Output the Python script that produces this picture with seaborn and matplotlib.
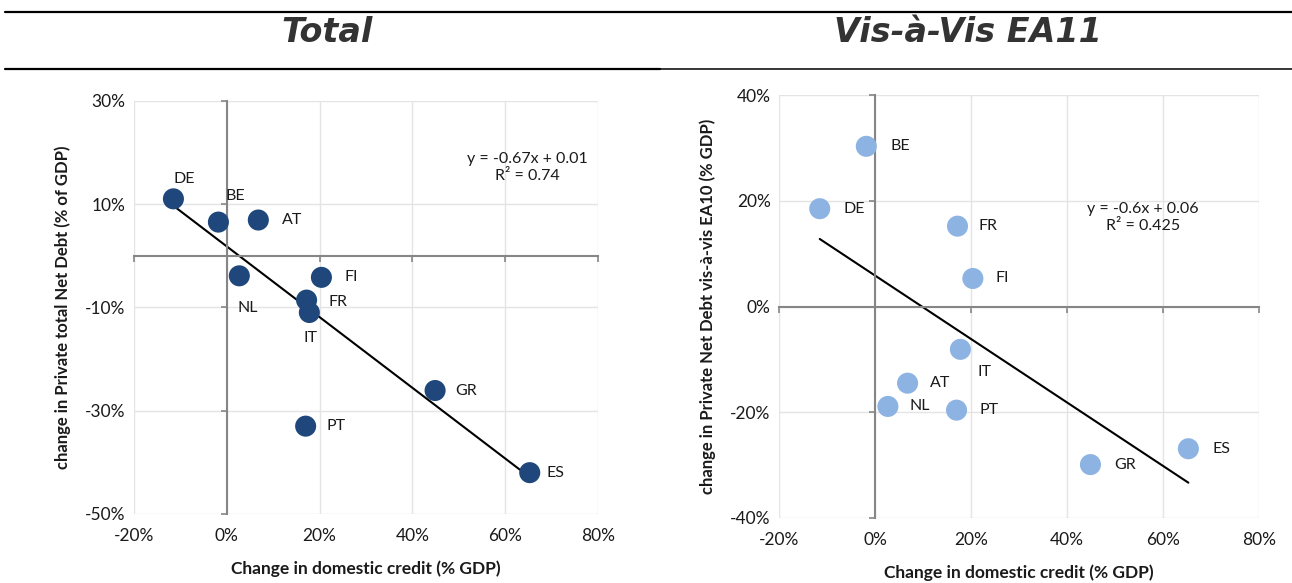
"""
Credito domestico vs debito netto privato: due scatter con retta di regressione
"""

import matplotlib
matplotlib.use("Agg")
import matplotlib.pyplot as plt
from matplotlib.lines import Line2D
from matplotlib.ticker import FuncFormatter
import seaborn as sns
import pandas as pd

# dati (valori in %)
countries = ["DE", "BE", "AT", "NL", "FI", "FR", "IT", "GR", "PT", "ES"]
credit_change = [-11.5, -1.8, 6.8, 2.7, 20.4, 17.2, 17.8, 44.9, 17.0, 65.3]
total_debt_change = [11.0, 6.5, 6.9, -3.9, -4.2, -8.6, -11.0, -26.1, -33.0, -42.0]
ea_debt_change = [18.5, 30.3, -14.5, -18.9, 5.3, 15.2, -8.1, -29.9, -19.6, -26.9]

x_ticks = [-20, 0, 20, 40, 60, 80]
total_ticks = [-50, -30, -10, 10, 30]
ea_ticks = [-40, -20, 0, 20, 40]

total_eq = ["y = -0.67x + 0.01", "R² = 0.74"]
ea_eq = ["y = -0.6x + 0.06", "R² = 0.425"]

# spostamento etichette (pixel) rispetto al punto
total_offsets = {"DE": (0, 20), "BE": (7, 26), "AT": (24, 0), "NL": (-2, -32),
                 "FI": (23, 0), "FR": (22, -2), "IT": (-6, -26), "GR": (20, 0),
                 "PT": (21, 0), "ES": (17, 0)}
ea_offsets = {"DE": (24, 0), "BE": (24, 0), "AT": (22, 0), "NL": (22, 0),
              "FI": (23, 0), "FR": (21, 0), "IT": (17, -23), "GR": (24, 0),
              "PT": (23, 0), "ES": (24, 0)}

sns.set_theme(style="white")
plt.rcParams["font.family"] = ["Lato", "DejaVu Sans"]

TEXT = "#1a1a1a"
GRID = "#e4e4e4"
AXIS = "#868686"

df = pd.DataFrame({"country": countries, "credit": credit_change,
                   "total": total_debt_change, "ea": ea_debt_change})

fig = plt.figure(figsize=(12.92, 5.83), dpi=100)
ax1 = fig.add_axes([0.1037, 0.1184, 0.3591, 0.7089])
ax2 = fig.add_axes([0.6029, 0.1115, 0.3715, 0.7255])

pct = FuncFormatter(lambda v, p: f"{v:.0f}%")


def draw_panel(ax, ycol, yticks, color, offsets, eq, eq_pos, ylabel):
    sns.regplot(data=df, x="credit", y=ycol, ax=ax, scatter=False, ci=None,
                truncate=True, line_kws={"color": "black", "lw": 1.5, "zorder": 2})
    sns.scatterplot(data=df, x="credit", y=ycol, ax=ax, color=color, s=230,
                    edgecolor="none", zorder=3, legend=False)
    for _, r in df.iterrows():
        ax.annotate(r["country"], (r["credit"], r[ycol]), xytext=offsets[r["country"]],
                    textcoords="offset pixels", ha="left", va="center",
                    fontsize=11.5, color=TEXT)
    ax.text(eq_pos[0], eq_pos[1], eq[0] + "\n" + eq[1], ha="center", va="center",
            fontsize=11.5, color=TEXT, linespacing=1.3)

    ax.set_xlim(x_ticks[0], x_ticks[-1])
    ax.set_ylim(yticks[0], yticks[-1])
    ax.set_xticks(x_ticks)
    ax.set_yticks(yticks)
    ax.grid(True, color=GRID, lw=1.0, zorder=0)
    ax.set_axisbelow(True)

    # assi che si incrociano nello zero, con tacche verso l'esterno
    for s in ["top", "right"]:
        ax.spines[s].set_visible(False)
    ax.spines["left"].set_position(("data", 0))
    ax.spines["bottom"].set_position(("data", 0))
    ax.spines["left"].set_color(AXIS)
    ax.spines["bottom"].set_color(AXIS)
    ax.spines["left"].set_linewidth(1.5)
    ax.spines["bottom"].set_linewidth(1.5)
    ax.tick_params(direction="out", length=4, width=1.2, color=AXIS,
                   labelleft=False, labelbottom=False, left=True, bottom=True)
    ax.set_xlabel("")
    ax.set_ylabel("")

    # etichette dei tick sul bordo (come in Excel)
    sy = ax.secondary_yaxis("left")
    sy.set_yticks(yticks)
    sy.yaxis.set_major_formatter(pct)
    sy.tick_params(length=0, labelsize=12.5, labelcolor=TEXT, pad=6)
    sy.spines["left"].set_visible(False)
    sy.set_ylabel(ylabel, fontsize=12, fontweight="bold", color=TEXT, labelpad=10)

    sx = ax.secondary_xaxis("bottom")
    sx.set_xticks(x_ticks)
    sx.xaxis.set_major_formatter(pct)
    sx.tick_params(length=0, labelsize=12.5, labelcolor=TEXT, pad=10)
    sx.spines["bottom"].set_visible(False)
    sx.set_xlabel("Change in domestic credit (% GDP)", fontsize=12.5,
                  fontweight="bold", color=TEXT, labelpad=12)


draw_panel(ax1, "total", total_ticks, "#1f477b", total_offsets, total_eq, (64.7, 17.0),
           "change in Private total Net Debt (% of GDP)")
draw_panel(ax2, "ea", ea_ticks, "#8db3e2", ea_offsets, ea_eq, (55.8, 16.9),
           "change in Private Net Debt vis-à-vis EA10 (% GDP)")

# titoli e linee orizzontali
fig.text(0.253, 0.945, "Total", ha="center", va="center", fontsize=24,
         fontweight="bold", style="italic", color="#333333", family="DejaVu Sans")
fig.text(0.749, 0.945, "Vis-à-Vis EA11", ha="center", va="center", fontsize=24,
         fontweight="bold", style="italic", color="#333333", family="DejaVu Sans")
fig.add_artist(Line2D([0.004, 1.0], [1 - 12 / 583] * 2, color="black", lw=1.6))
fig.add_artist(Line2D([0.004, 0.511], [1 - 69 / 583] * 2, color="black", lw=1.6))
fig.add_artist(Line2D([0.511, 1.0], [1 - 69 / 583] * 2, color="black", lw=1.1))

fig.savefig("out.png", dpi=100)
